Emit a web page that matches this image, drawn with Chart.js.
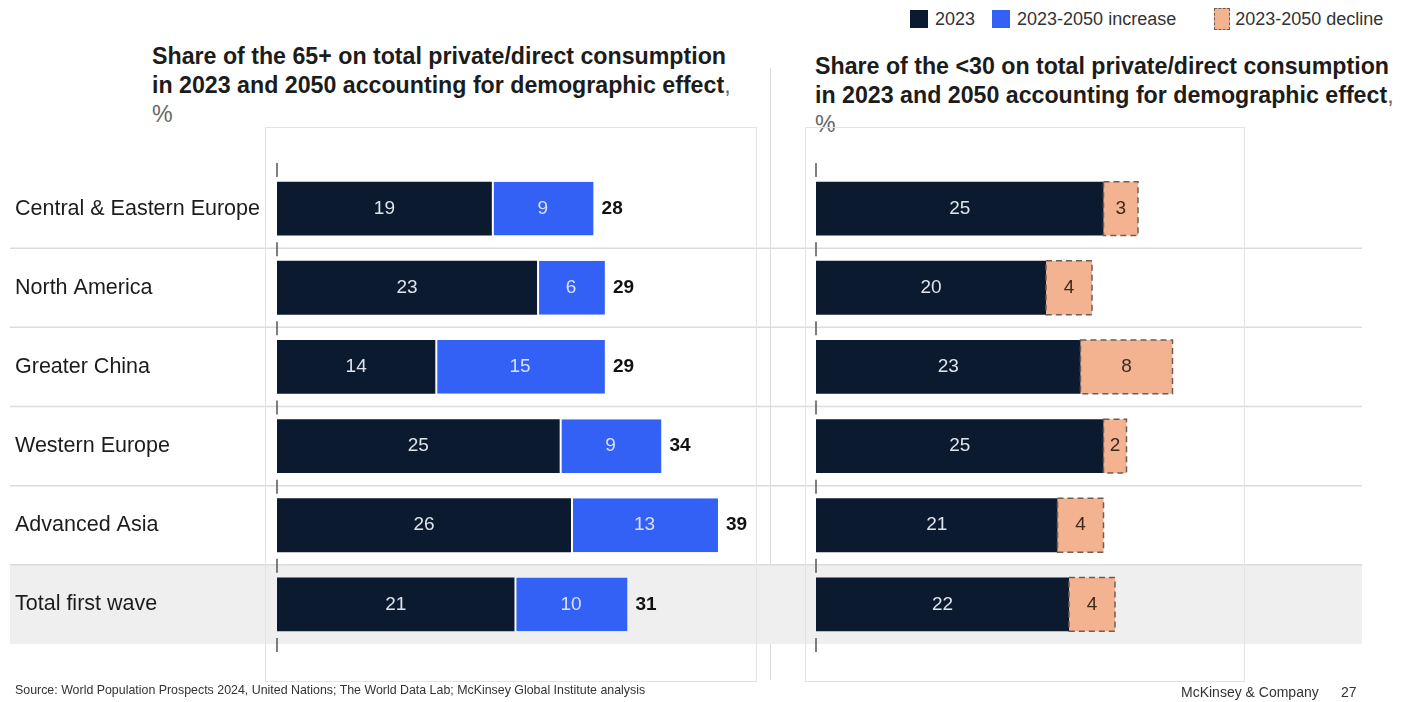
<!DOCTYPE html>
<html lang="en">
<head>
<meta charset="UTF-8">
<title>Share of consumption: 65+ vs under 30</title>
<script src="https://cdn.jsdelivr.net/npm/chart.js@4.4.1/dist/chart.umd.min.js"></script>
<style>
  body { margin: 0; background: #fff; font-family: "Liberation Sans", Arial, sans-serif; }
  .page { position: relative; width: 1402px; height: 702px; overflow: hidden; }
  .title { position: absolute; font-weight: bold; font-size: 23.2px; line-height: 29px; color: #1c1c1c; white-space: nowrap; }
  .title .thin { font-weight: normal; color: #666; }
  .frame { position: absolute; border: 1px solid #e3e3e3; pointer-events: none; }
  .vsep { position: absolute; left: 770px; top: 68px; width: 1px; height: 612px; background: #dcdcdc; }
  canvas { position: absolute; }
  .legend { position: absolute; top: 8px; left: 910px; width: 490px; font-size: 18px; color: #333; display: flex; align-items: center; white-space: nowrap; }
  .legend .sw { width: 18px; height: 18px; display: inline-block; margin-right: 7px; flex: none; }
  .legend .item { display: flex; align-items: center; margin-right: 14px; flex: none; }
  .foot { position: absolute; font-size: 12.4px; color: #333; white-space: nowrap; }
</style>
</head>
<body>
<div class="page">
  <div class="legend">
    <div class="item" style="margin-right:17px"><span class="sw" style="background:#0c1a2f"></span>2023</div>
    <div class="item" style="margin-right:38px"><span class="sw" style="background:#3461f5"></span>2023-2050 increase</div>
    <div class="item"><span class="sw" style="background:#f4b390;border:1.5px dashed #6e5d55;width:16px;height:22px;box-sizing:border-box;margin-right:5px"></span>2023-2050 decline</div>
  </div>

  <div class="title" style="left:152px; top:42px;">Share of the 65+ on total private/direct consumption<br>in 2023 and 2050 accounting for demographic effect<span class="thin">,</span><br><span class="thin">%</span></div>
  <div class="title" style="left:815px; top:52px;">Share of the &lt;30 on total private/direct consumption<br>in 2023 and 2050 accounting for demographic effect<span class="thin">,</span><br><span class="thin">%</span></div>

  <div class="vsep"></div>
  <canvas id="olderChart" width="770" height="560" style="left:0; top:125px;"></canvas>
  <canvas id="youngChart" width="632" height="560" style="left:770px; top:125px;"></canvas>
  <div class="frame" style="left:265px; top:127px; width:490px; height:553px;"></div>
  <div class="frame" style="left:805px; top:127px; width:438px; height:553px;"></div>

  <div class="foot" style="left:15px; top:683px;">Source: World Population Prospects 2024, United Nations; The World Data Lab; McKinsey Global Institute analysis</div>
  <div class="foot" style="left:1181px; top:684px; font-size:14px;">McKinsey &amp; Company</div>
  <div class="foot" style="left:1341px; top:684px; font-size:14px;">27</div>
</div>

<script>
  const regions = ['Central & Eastern Europe', 'North America', 'Greater China', 'Western Europe', 'Advanced Asia', 'Total first wave'];

  // 65+ share, %
  const older2023 = [19, 23, 14, 25, 26, 21];
  const olderIncrease = [9, 6, 15, 9, 13, 10];
  const older2050 = [28, 29, 29, 34, 39, 31];

  // <30 share, %
  const young2023 = [25, 20, 23, 25, 21, 22];
  const youngDecline = [3, 4, 8, 2, 4, 4];

  const NAVY = '#0c1a2f';
  const BLUE = '#3461f5';
  const PEACH = '#f4b390';
  const FONT = '"Liberation Sans", Arial, sans-serif';

  // row separators + grey band behind the total row
  function rowBackground(x0, x1) {
    return {
      id: 'rowBackground',
      beforeDraw(chart) {
        const { ctx } = chart;
        const y = chart.scales.y;
        const n = regions.length;
        const half = (y.getPixelForValue(1) - y.getPixelForValue(0)) / 2;
        ctx.save();
        const cLast = y.getPixelForValue(n - 1);
        ctx.fillStyle = '#efefef';
        ctx.fillRect(x0, cLast - half, x1 - x0, half * 2);
        ctx.strokeStyle = '#dcdcdc';
        ctx.lineWidth = 1.5;
        for (let i = 0; i < n - 1; i++) {
          const yy = y.getPixelForValue(i) + half;
          ctx.beginPath();
          ctx.moveTo(x0, yy);
          ctx.lineTo(x1, yy);
          ctx.stroke();
        }
        ctx.restore();
      }
    };
  }

  // little axis marks at the zero line between rows
  const zeroMarks = {
    id: 'zeroMarks',
    beforeDatasetsDraw(chart) {
      const { ctx } = chart;
      const y = chart.scales.y;
      const x = chart.scales.x.getPixelForValue(0);
      const half = (y.getPixelForValue(1) - y.getPixelForValue(0)) / 2;
      ctx.save();
      ctx.strokeStyle = '#555';
      ctx.lineWidth = 1.5;
      for (let i = 0; i <= regions.length; i++) {
        const yy = y.getPixelForValue(i) - half;
        ctx.beginPath();
        ctx.moveTo(x, yy - 6);
        ctx.lineTo(x, yy + 8);
        ctx.stroke();
      }
      ctx.restore();
    }
  };

  // numbers inside the bars, totals after the bar, dashed outline for declines
  function barLabels(totals) {
    return {
      id: 'barLabels',
      afterDatasetsDraw(chart) {
        const { ctx } = chart;
        ctx.save();
        ctx.textBaseline = 'middle';
        chart.data.datasets.forEach((ds, di) => {
          const meta = chart.getDatasetMeta(di);
          meta.data.forEach((el, i) => {
            const p = el.getProps(['x', 'y', 'base', 'height'], true);
            if (ds.dashed) {
              ctx.save();
              ctx.setLineDash([6, 4]);
              ctx.strokeStyle = '#6e5d55';
              ctx.lineWidth = 1.5;
              ctx.strokeRect(p.base, p.y - p.height / 2, p.x - p.base, p.height);
              ctx.restore();
            }
            ctx.font = '19px ' + FONT;
            ctx.textAlign = 'center';
            ctx.fillStyle = ds.labelColor;
            ctx.fillText(ds.data[i], (p.x + p.base) / 2, p.y);
            if (totals && di === chart.data.datasets.length - 1) {
              ctx.font = 'bold 19px ' + FONT;
              ctx.textAlign = 'left';
              ctx.fillStyle = '#111';
              ctx.fillText(totals[i], p.x + 8, p.y);
            }
          });
        });
        ctx.restore();
      }
    };
  }

  new Chart(document.getElementById('olderChart'), {
    type: 'bar',
    data: {
      labels: regions,
      datasets: [
        { data: older2023, backgroundColor: NAVY, labelColor: '#dfe3ea', borderWidth: 0 },
        { data: olderIncrease, backgroundColor: BLUE, labelColor: '#d6e0ff',
          borderColor: '#ffffff', borderWidth: { left: 2 }, borderSkipped: false }
      ]
    },
    options: {
      responsive: false,
      animation: false,
      indexAxis: 'y',
      datasets: { bar: { categoryPercentage: 1, barPercentage: 0.68 } },
      layout: { padding: { left: 15, top: 44, bottom: 41, right: 0 } },
      plugins: { legend: { display: false }, tooltip: { enabled: false } },
      scales: {
        x: { stacked: true, min: 0, max: 43.6, display: false },
        y: {
          stacked: true,
          grid: { display: false },
          border: { display: false },
          ticks: { crossAlign: 'far', color: '#1c1c1c', font: { size: 21.5, family: FONT } },
          afterFit(s) { s.width = 262; }
        }
      }
    },
    plugins: [rowBackground(10, 770), zeroMarks, barLabels(older2050)]
  });

  new Chart(document.getElementById('youngChart'), {
    type: 'bar',
    data: {
      labels: regions,
      datasets: [
        { data: young2023, backgroundColor: NAVY, labelColor: '#dfe3ea', borderWidth: 0 },
        { data: youngDecline, backgroundColor: PEACH, labelColor: '#3a2a20', borderWidth: 0, dashed: true }
      ]
    },
    options: {
      responsive: false,
      animation: false,
      indexAxis: 'y',
      datasets: { bar: { categoryPercentage: 1, barPercentage: 0.68 } },
      layout: { padding: { left: 46, top: 44, bottom: 41, right: 34 } },
      plugins: { legend: { display: false }, tooltip: { enabled: false } },
      scales: {
        x: { stacked: true, min: 0, max: 48, display: false },
        y: { stacked: true, display: false }
      }
    },
    plugins: [rowBackground(0, 592), zeroMarks, barLabels(null)]
  });
</script>
</body>
</html>
